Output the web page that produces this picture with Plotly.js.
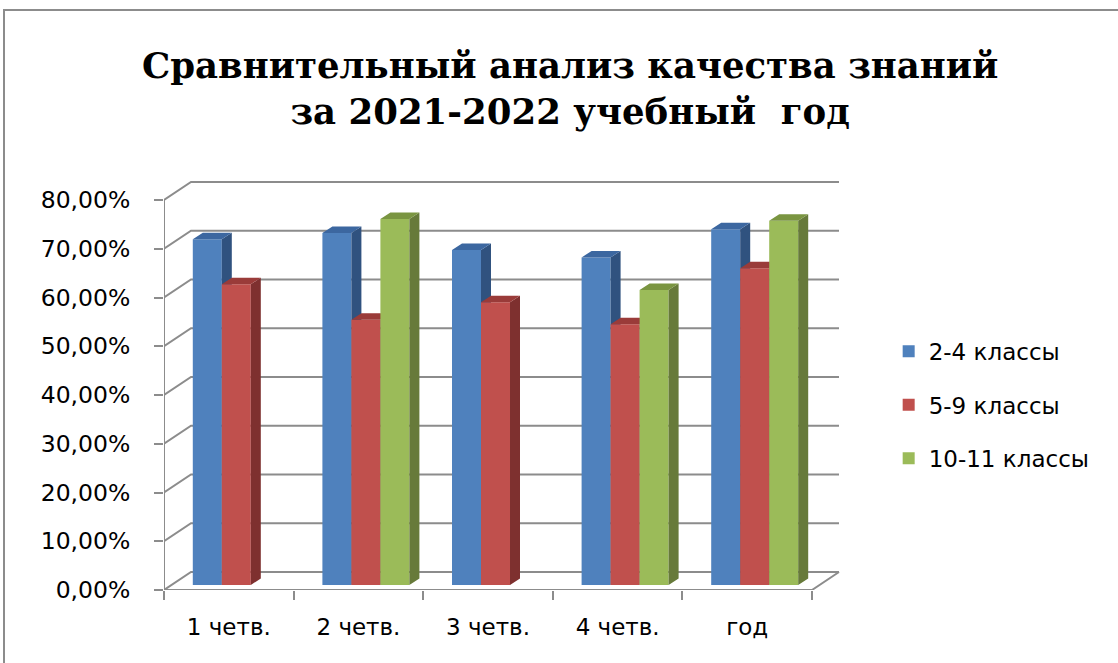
<!DOCTYPE html>
<html>
<head>
<meta charset="utf-8">
<script src="https://cdn.plot.ly/plotly-3.0.1.min.js"></script>
<style>html,body{margin:0;padding:0;background:#fff;}#chart{width:1118px;height:663px;}</style>
</head>
<body>
<div id="chart"></div>
<script>
// ---- data ----
const categories = ['1 четв.', '2 четв.', '3 четв.', '4 четв.', 'год'];
const seriesNames = ['2-4 классы', '5-9 классы', '10-11 классы'];
const s2to4 = [70.9, 72.2, 68.7, 67.2, 73.0];
const s5to9 = [61.7, 54.4, 58.0, 53.5, 65.0];
const s10to11 = [null, 75.1, null, 60.5, 74.7];
const yTickVals = [0, 10, 20, 30, 40, 50, 60, 70, 80];
const yTickText = ['0,00%', '10,00%', '20,00%', '30,00%', '40,00%', '50,00%', '60,00%', '70,00%', '80,00%'];
const titleText = 'Сравнительный анализ качества знаний<br>за 2021-2022 учебный  год';

// ---- styles ----
const frontColors = ['#4F81BD', '#C0504D', '#9BBB59'];
const sideColors  = ['#30527F', '#7E302F', '#677A3A'];
const topColors   = ['#3C67A0', '#9A3B39', '#7A9541'];
const gridColor = '#8C8C8C';
const textFont = 'DejaVu Sans';

// ---- geometry (pixels -> data units) ----
const W = 1118, H = 663;
const M = {l: 164, r: 278, t: 175, b: 73, pad: 0};
const plotW = W - M.l - M.r, plotH = H - M.t - M.b;
const nCat = categories.length;
const ux = 648 / nCat;      // px per category on the front plane
const uy = 390 / 80;        // px per percent
const xRange = [-0.5, -0.5 + plotW / ux];
const yRange = [0, plotH / uy];
const wall = {dx: 27 / ux, dy: 18 / uy};
const front = {dx: 7.5 / ux, dy: 5 / uy};
const depth = {dx: 10 / ux, dy: 6.5 / uy};
const barW = 29 / ux;

const idx = categories.map((c, i) => i);
const xMin = -0.5, xMaxFront = nCat - 0.5;
const boundaries = [];
for (let i = 0; i <= nCat; i++) boundaries.push(i - 0.5);

// ---- back wall grid, left axis, floor ----
const gx = [], gy = [];
yTickVals.forEach(v => {
  gx.push(xMin, xMin + wall.dx, xMaxFront + wall.dx, null);
  gy.push(v, v + wall.dy, v + wall.dy, null);
});
gx.push(xMin, xMin, null);
gy.push(0, yTickVals[yTickVals.length - 1], null);
gx.push(xMin, xMaxFront, xMaxFront + wall.dx, null);
gy.push(0, 0, wall.dy, null);

const traces = [{
  type: 'scatter', mode: 'lines', x: gx, y: gy,
  line: {color: gridColor, width: 2}, hoverinfo: 'skip', showlegend: false,
  xaxis: 'x', yaxis: 'y'
}];

const allSeries = [s2to4, s5to9, s10to11];
allSeries.forEach((vals, s) => {
  const xa = 'x' + (s + 2), ya = 'y' + (s + 2);
  const off = front.dx - 1.5 * barW + s * barW;
  traces.push({
    type: 'bar', x: idx, y: vals, base: front.dy, offset: off, width: barW,
    name: seriesNames[s], legendgroup: seriesNames[s],
    marker: {color: frontColors[s], line: {width: 0}},
    xaxis: xa, yaxis: ya, hoverinfo: 'y'
  });
  const sx = [], sy = [], tx = [], ty = [];
  vals.forEach((v, i) => {
    if (v === null) return;
    const L = i + off, R = L + barW, b = front.dy, t = front.dy + v;
    sx.push(R, R + depth.dx, R + depth.dx, R, R, null);
    sy.push(b, b + depth.dy, t + depth.dy, t, b, null);
    tx.push(L, L + depth.dx, R + depth.dx, R, L, null);
    ty.push(t, t + depth.dy, t + depth.dy, t, t, null);
  });
  traces.push({type: 'scatter', mode: 'lines', x: sx, y: sy, fill: 'toself',
    fillcolor: sideColors[s], line: {width: 0, color: sideColors[s]},
    hoverinfo: 'skip', showlegend: false, xaxis: xa, yaxis: ya});
  traces.push({type: 'scatter', mode: 'lines', x: tx, y: ty, fill: 'toself',
    fillcolor: topColors[s], line: {width: 0, color: topColors[s]},
    hoverinfo: 'skip', showlegend: false, xaxis: xa, yaxis: ya});
});

const layout = {
  width: W, height: H, margin: M,
  paper_bgcolor: '#fff', plot_bgcolor: 'rgba(0,0,0,0)',
  showlegend: true,
  title: {text: titleText, x: 0.51, xanchor: 'center', y: 0.882, yanchor: 'middle',
    font: {family: 'DejaVu Serif', size: 35.5, color: '#000', weight: 'bold'}},
  xaxis: {range: xRange, tickmode: 'array', tickvals: idx, ticktext: categories,
    ticks: '', showgrid: false, zeroline: false, showline: false,
    tickfont: {family: textFont, size: 23, color: '#000'}, ticklabelstandoff: 21,
    minor: {tickmode: 'array', tickvals: boundaries, ticks: 'outside', ticklen: 9,
      tickwidth: 2, tickcolor: gridColor, showgrid: false}},
  yaxis: {range: yRange, tickmode: 'array', tickvals: yTickVals, ticktext: yTickText,
    ticks: 'outside', ticklen: 9, tickwidth: 2, tickcolor: gridColor,
    showgrid: false, zeroline: false, showline: false,
    tickfont: {family: textFont, size: 23.5, color: '#000'}, ticklabelstandoff: 19},
  legend: {x: 1.072, xanchor: 'left', y: 0.446, yanchor: 'middle',
    font: {family: textFont, size: 23, color: '#000'}, tracegroupgap: 20.5,
    bgcolor: 'rgba(0,0,0,0)'},
  shapes: [{type: 'rect', xref: 'paper', yref: 'paper',
    x0: (4 - M.l) / plotW, x1: 1.6, y0: -0.5, y1: (H - M.b - 10) / plotH,
    line: {color: '#8C8C8C', width: 2}, layer: 'below'}]
};
for (let k = 2; k <= 4; k++) {
  layout['xaxis' + k] = {overlaying: 'x', range: xRange, visible: false};
  layout['yaxis' + k] = {overlaying: 'y', range: yRange, visible: false};
}

Plotly.newPlot('chart', traces, layout, {staticPlot: true});
</script>
</body>
</html>
